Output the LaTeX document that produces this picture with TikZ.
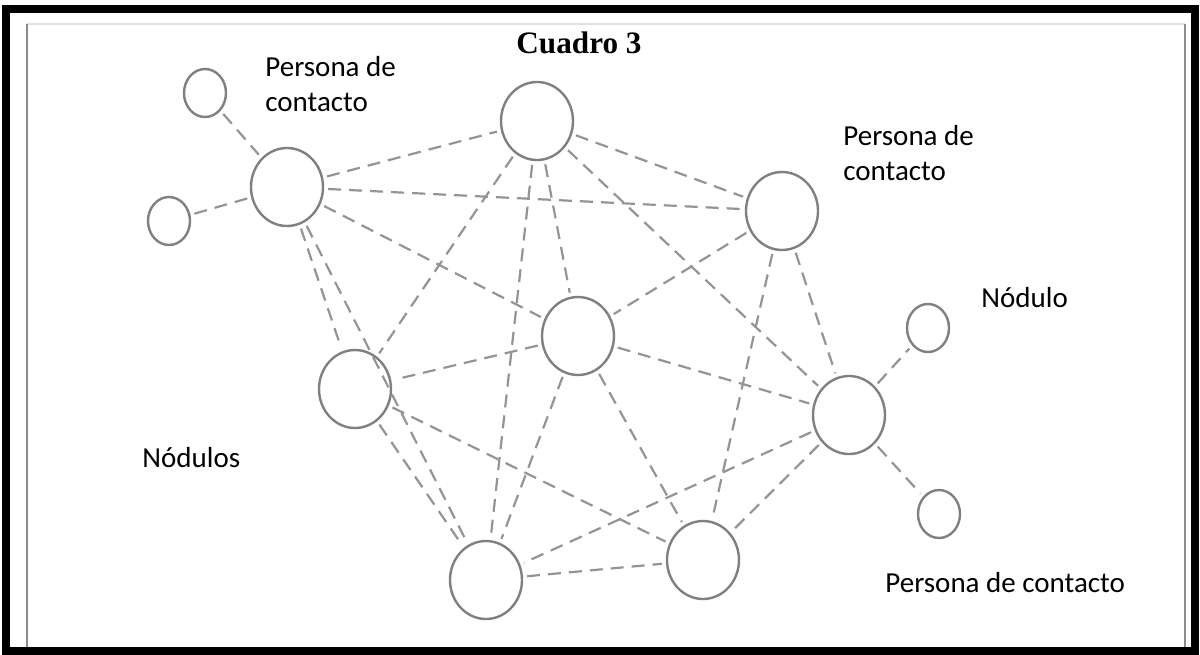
\documentclass[tikz,border=0pt]{standalone}
\usepackage{fontspec}
\setmainfont{Carlito}
\newfontfamily\titlefont{Liberation Serif}
\usetikzlibrary{shapes.geometric}

\tikzset{
	bignode/.style={draw=black!50, line width=1.2pt, ellipse, minimum width=36pt, minimum height=39pt, inner sep=0pt},
	smallnode/.style={draw=black!50, line width=1.2pt, ellipse, minimum width=21pt, minimum height=24pt, inner sep=0pt},
	link/.style={draw=black!42, line width=1.1pt, dash pattern=on 6.5pt off 4pt, shorten <=2pt, shorten >=2pt},
	lbl/.style={font=\fontsize{14.5pt}{17.5pt}\selectfont, inner sep=0pt, align=left}
}

\begin{document}
\begin{tikzpicture}[x=0.5pt, y=-0.5pt]
		%%%%% START %%%%%
		\useasboundingbox (0, 0) rectangle (1200, 654);
		
		\draw[color=black!12, line width=1pt] (27, 24) -- (1185, 24);
		\draw[color=black!45, line width=1.2pt] (27, 24) -- (27, 648);
		\draw[color=black!45, line width=1.2pt] (1185, 24) -- (1185, 648);
		\draw[line width=4pt, color=black] (6, 9) rectangle (1195, 651);
		
		\node[font=\titlefont\bfseries\fontsize{15.6pt}{18pt}\selectfont, anchor=base, inner sep=0pt] (title) at (579, 53) {Cuadro 3};
		
		\node[smallnode] (pcA) at (205, 93) {};
		\node[smallnode] (pcB) at (169, 221) {};
		\node[smallnode] (nod) at (928, 328) {};
		\node[smallnode] (pcC) at (939, 514) {};
		
		\node[bignode] (hubL) at (287, 187) {};
		\node[bignode] (top) at (537, 121) {};
		\node[bignode] (topR) at (782, 211) {};
		\node[bignode] (mid) at (578, 336) {};
		\node[bignode] (left) at (355, 389) {};
		\node[bignode] (hubR) at (849, 415) {};
		\node[bignode] (botL) at (486, 580) {};
		\node[bignode] (botR) at (703, 560) {};
		
		\draw[link] (pcA) -- (hubL);
		\draw[link] (pcB) -- (hubL);
		\draw[link] (hubL) -- (top);
		\draw[link] (hubL) -- (topR);
		\draw[link] (hubL) -- (mid);
		\draw[link] (hubL) -- (left);
		\draw[link] (hubL) -- (botL);
		\draw[link] (top) -- (topR);
		\draw[link] (top) -- (mid);
		\draw[link] (top) -- (left);
		\draw[link] (top) -- (hubR);
		\draw[link] (top) -- (botL);
		\draw[link] (topR) -- (mid);
		\draw[link] (topR) -- (hubR);
		\draw[link] (topR) -- (botR);
		\draw[link] (mid) -- (left);
		\draw[link] (mid) -- (hubR);
		\draw[link] (mid) -- (botL);
		\draw[link] (mid) -- (botR);
		\draw[link] (left) -- (botL);
		\draw[link] (left) -- (botR);
		\draw[link] (hubR) -- (nod);
		\draw[link] (hubR) -- (pcC);
		\draw[link] (hubR) -- (botL);
		\draw[link] (hubR) -- (botR);
		\draw[link] (botL) -- (botR);
		
		\node[lbl, anchor=base west] (pcAtext) at (265, 111) {Persona de\\contacto};
		\node[lbl, anchor=base west] (pcBtext) at (843, 180) {Persona de\\contacto};
		\node[lbl, anchor=base west] (nodtext) at (981, 307) {Nódulo};
		\node[lbl, anchor=base west] (nodstext) at (142, 467) {Nódulos};
		\node[lbl, anchor=base west] (pcCtext) at (885, 592) {Persona de contacto};
		
		%%%%% END %%%%%
	\end{tikzpicture}
\end{document}
